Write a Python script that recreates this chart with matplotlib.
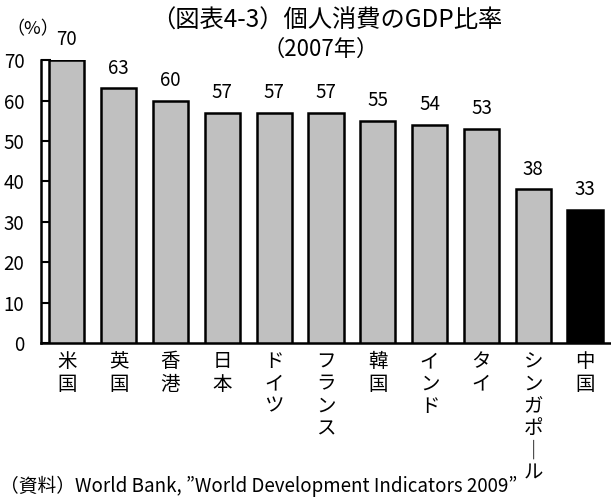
import matplotlib
matplotlib.use("Agg")
import matplotlib.pyplot as plt

plt.rcParams['font.family'] = ['Noto Sans CJK JP', 'DejaVu Sans']

categories = ["米国", "英国", "香港", "日本", "ドイツ", "フランス", "韓国", "インド", "タイ", "シンガポール", "中国"]
values = [70, 63, 60, 57, 57, 57, 55, 54, 53, 38, 33]
colors = ["#c0c0c0"] * 10 + ["#000000"]
yticks = [0, 10, 20, 30, 40, 50, 60, 70]

fig = plt.figure(figsize=(6.11, 4.97), dpi=100)
ax = fig.add_axes([0.067, 0.310, 0.933, 0.569])

x = list(range(len(categories)))
ax.bar(x, values, width=0.68, color=colors, edgecolor="black", linewidth=1.8, zorder=3)
ax.set_xlim(-0.5, 10.5)
ax.set_ylim(0, 70)
ax.set_yticks(yticks)
ax.tick_params(axis='y', direction='in', length=7, width=1.5, labelsize=13.5, pad=12)
ax.tick_params(axis='x', length=0, pad=6)

def vert(s):
    return "\n".join("｜" if c == "ー" else c for c in s)

ax.set_xticks(x)
ax.set_xticklabels([vert(c) for c in categories], fontsize=14, linespacing=1.08, va='top')

for sp in ['top', 'right']:
    ax.spines[sp].set_visible(False)
for sp in ['left', 'bottom']:
    ax.spines[sp].set_linewidth(1.8)

for xi, v in zip(x, values):
    ax.annotate(str(v), (xi, v), xytext=(0, 7), textcoords='offset points',
                ha='center', va='bottom', fontsize=13.5)

fig.text(0.535, 0.958, "（図表4-3）個人消費のGDP比率", ha='center', va='center', fontsize=17.5)
fig.text(0.524, 0.900, "（2007年）", ha='center', va='center', fontsize=16)
fig.text(0.010, 0.942, "（%）", ha='left', va='center', fontsize=13)
fig.text(0.0, 0.022, "（資料）World Bank, ”World Development Indicators 2009”", ha='left', va='center', fontsize=13.5)

fig.savefig("out.png", dpi=100)
